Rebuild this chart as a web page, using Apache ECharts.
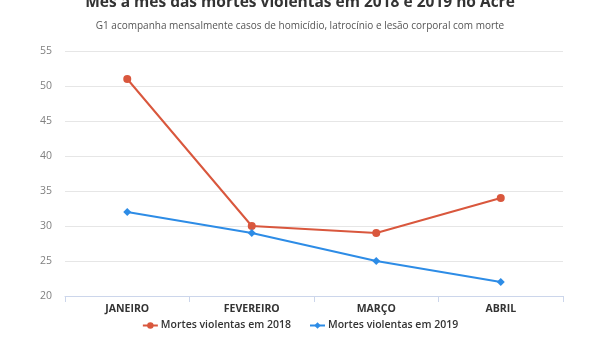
<!DOCTYPE html>
<html><head><meta charset="utf-8">
<script src="https://cdn.jsdelivr.net/npm/echarts@6/dist/echarts.min.js"></script>
<style>html,body{margin:0;padding:0;background:#fff}#c{width:600px;height:340px}</style>
</head><body><div id="c"></div>
<script>
const categories = ['JANEIRO', 'FEVEREIRO', 'MARÇO', 'ABRIL'];
const series2018 = [51, 30, 29, 34];
const series2019 = [32, 29, 25, 22];
const seriesNames = ['Mortes violentas em 2018', 'Mortes violentas em 2019'];
const titleText = 'Mês a mês das mortes violentas em 2018 e 2019 no Acre';
const subtitleText = 'G1 acompanha mensalmente casos de homicídio, latrocínio e lesão corporal com morte';

const chart = echarts.init(document.getElementById('c'), null, {renderer: 'canvas'});
const font = '"Open Sans", "Noto Sans", sans-serif';
chart.setOption({
  animation: false,
  backgroundColor: '#fff',
  title: [{
    text: titleText, left: 'center', top: -10,
    textStyle: {fontFamily: font, fontSize: 15.5, fontWeight: 'bold', color: '#333'}
  }, {
    text: subtitleText, left: 'center', top: 16.5,
    textStyle: {fontFamily: font, fontSize: 10, fontWeight: 'normal', color: '#555'}
  }],
  legend: {
    bottom: 4, left: 'center', itemWidth: 15, itemHeight: 8, itemGap: 18,
    textStyle: {fontFamily: font, fontSize: 10.5, fontWeight: 600, color: '#333', padding: [0, 0, 0, -2]},
    data: seriesNames
  },
  grid: {left: 65, right: 37, top: 51, bottom: 44},
  xAxis: {
    type: 'category', data: categories, boundaryGap: true,
    axisLine: {lineStyle: {color: '#ccd6eb'}},
    axisTick: {show: true, length: 6, lineStyle: {color: '#ccd6eb'}},
    axisLabel: {fontFamily: font, fontSize: 10.5, fontWeight: 'bold', color: '#333', margin: 8}
  },
  yAxis: {
    type: 'value', min: 20, max: 55, interval: 5,
    axisLine: {show: false}, axisTick: {show: false},
    axisLabel: {fontFamily: font, fontSize: 10.5, color: '#808080', margin: 13},
    splitLine: {lineStyle: {color: '#e6e6e6'}}
  },
  series: [{
    name: seriesNames[0], type: 'line', data: series2018,
    symbol: 'circle', symbolSize: 8,
    lineStyle: {color: '#d9573d', width: 2}, itemStyle: {color: '#d9573d'}
  }, {
    name: seriesNames[1], type: 'line', data: series2019,
    symbol: 'diamond', symbolSize: 8,
    lineStyle: {color: '#2d8ce6', width: 2}, itemStyle: {color: '#2d8ce6'}
  }]
});
</script></body></html>
